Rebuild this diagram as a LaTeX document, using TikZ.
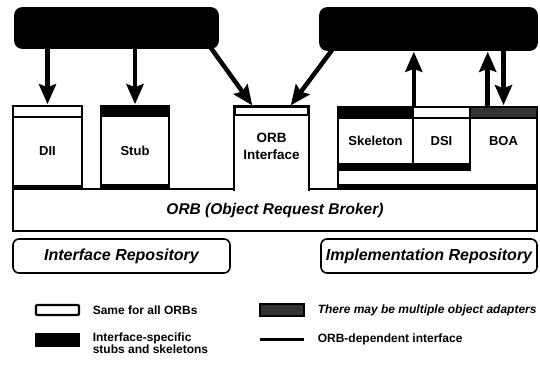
\documentclass[tikz,border=0pt]{standalone}
\usepackage{fontspec}
\setmainfont{Liberation Sans}
\usetikzlibrary{arrows.meta,calc}

\begin{document}
\begin{tikzpicture}[x=1pt,y=-1pt,line width=1.6pt,
  topbox/.style={fill=black,draw=black,rounded corners=7pt,inner sep=0pt},
  body/.style={draw,fill=white,inner sep=0pt,font=\fontsize{13}{15}\selectfont\bfseries},
  hdrwhite/.style={draw,fill=white,inner sep=0pt},
  hdrblack/.style={draw,fill=black,inner sep=0pt},
  hdrmulti/.style={draw,fill=black!80,inner sep=0pt},
  flow/.style={line width=4.5pt,shorten >=1pt,-{Stealth[length=20pt,width=17pt,inset=3pt]}},
  repo/.style={draw,rounded corners=6pt,inner sep=0pt,minimum height=34pt,
    font=\fontsize{16}{18}\selectfont\bfseries\itshape},
  legtext/.style={anchor=west,inner sep=0pt,align=left,font=\fontsize{12}{11}\selectfont\bfseries}]
  \useasboundingbox (0,0) rectangle (540,365);

  % client and object implementation
  \node[topbox,minimum width=203pt,minimum height=40pt] (client) at (116.5,28) {};
  \node[topbox,minimum width=217pt,minimum height=42pt] (objimpl) at (428.5,29) {};

  % ORB core
  \node[draw,fill=white,minimum width=524pt,minimum height=42pt,inner sep=0pt,
    font=\fontsize{15.5}{17}\selectfont\bfseries\itshape] (orb) at (275,210) {ORB (Object Request Broker)};

  % client side
  \node[hdrwhite,minimum width=69pt,minimum height=11pt] (diihd) at (47.5,111.5) {};
  \node[body,minimum width=69pt,minimum height=68pt] (dii) at (47.5,151.5) {DII};
  \node[hdrblack,minimum width=68pt,minimum height=10pt] (stubhd) at (135,111) {};
  \node[body,minimum width=68pt,minimum height=69pt] (stub) at (135,150.5) {Stub};
  \fill (dii.south west) rectangle ($(dii.south east)+(0,4)$);
  \fill (stub.south west) rectangle ($(stub.south east)+(0,4)$);

  % ORB interface, open towards the core
  \node[fill=white,minimum width=73pt,minimum height=74.8pt,inner sep=0pt] (orbif) at (271.5,152.4) {};
  \node[hdrwhite,minimum width=73pt,minimum height=8pt] (orbifhd) at (271.5,111) {};
  \draw (orbif.south west) -- (orbifhd.north west) -- (orbifhd.north east) -- (orbif.south east);
  \node[align=center,inner sep=0pt,font=\fontsize{13.5}{17}\selectfont\bfseries] (orbiflbl) at (271.5,146) {ORB\\Interface};

  % implementation side
  \node[draw,fill=white,minimum width=199pt,minimum height=82pt,inner sep=0pt] (adapt) at (437.5,148) {};
  \node[hdrblack,minimum width=75pt,minimum height=11pt] (skelhd) at (375.5,112.5) {};
  \node[hdrwhite,minimum width=57pt,minimum height=11pt] (dsihd) at (441.5,112.5) {};
  \node[hdrmulti,minimum width=67pt,minimum height=11pt] (boahd) at (503.5,112.5) {};
  \node[body,minimum width=75pt,minimum height=46pt] (skel) at (375.5,141) {Skeleton};
  \node[body,minimum width=57pt,minimum height=46pt] (dsi) at (441.5,141) {DSI};
  \node[inner sep=0pt,font=\fontsize{13}{15}\selectfont\bfseries] (boa) at (503.5,141) {BOA};
  \fill (skel.south west) rectangle ($(dsi.south east)+(0,6)$);
  \fill ($(adapt.south west)+(0,-6)$) rectangle (adapt.south east);

  % requests
  \coordinate (boaup) at ($(boahd.north west)!0.27!(boahd.north east)$);
  \draw[flow] (client.south -| diihd.north) -- (diihd.north);
  \draw[flow] (client.south -| stubhd.north) -- (stubhd.north);
  \draw[flow] ($(client.south east)+(-8,-1)$) -- ($(orbifhd.north)!0.5!(orbifhd.north west)$);
  \draw[flow] ($(objimpl.south west)+(13,-1)$) -- ($(orbifhd.north)!0.5!(orbifhd.north east)$);
  \draw[flow] (skelhd.north east) -- (skelhd.north east |- objimpl.south);
  \draw[flow] (boaup) -- (boaup |- objimpl.south);
  \draw[flow] (objimpl.south -| boahd.north) -- (boahd.north);

  % repositories
  \node[repo,minimum width=217pt] (ifrepo) at (121.5,256) {Interface Repository};
  \node[repo,minimum width=216pt] (imprepo) at (429,256) {Implementation Repository};

  % legend
  \node[hdrwhite,line width=2.2pt,rounded corners=1pt,minimum width=43pt,minimum height=10pt] (lgsame) at (57.5,310) {};
  \node[legtext] (lgsametxt) at (92,310) {Same for all ORBs};
  \node[hdrblack,minimum width=43pt,minimum height=13pt] (lgspec) at (57.5,340) {};
  \node[legtext] (lgspectxt) at (92,343) {Interface-specific\\stubs and skeletons};
  \node[hdrmulti,minimum width=44pt,minimum height=12pt] (lgmulti) at (282,310) {};
  \node[legtext,font=\fontsize{12}{11}\selectfont\bfseries\itshape] (lgmultitxt) at (317,310) {There may be multiple object adapters};
  \coordinate (lgdepa) at (260,339);
  \coordinate (lgdepb) at (304,339);
  \draw[line width=3pt] (lgdepa) -- (lgdepb);
  \node[legtext] (lgdeptxt) at (317,339) {ORB-dependent interface};
\end{tikzpicture}
\end{document}
